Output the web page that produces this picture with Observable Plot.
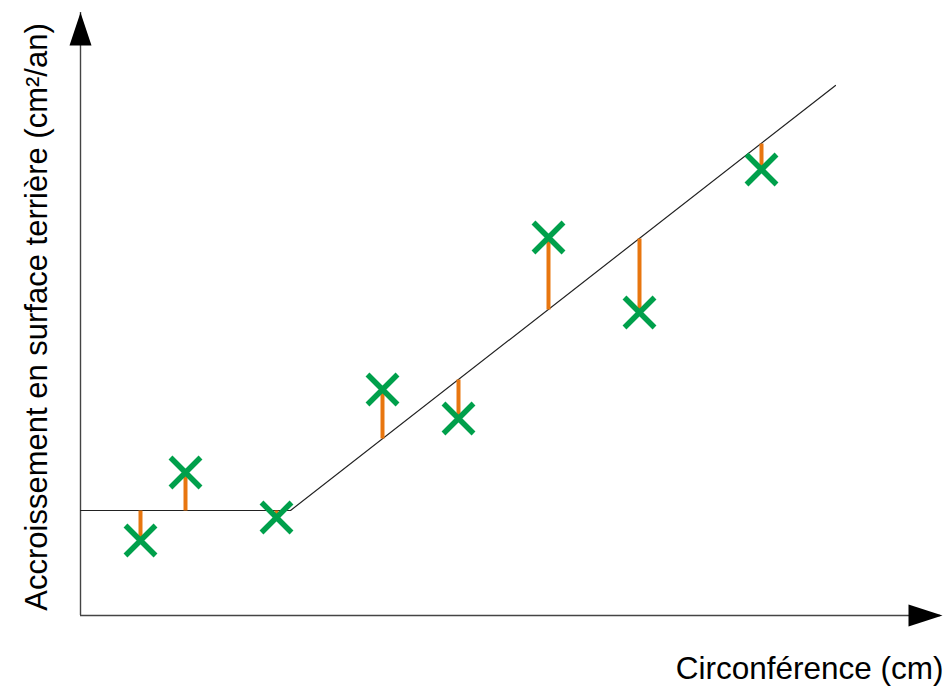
<!DOCTYPE html>
<html>
<head>
<meta charset="utf-8">
<script src="https://cdn.jsdelivr.net/npm/d3@7"></script>
<script src="https://cdn.jsdelivr.net/npm/@observablehq/plot@0.6"></script>
<style>
  body { margin: 0; background: #fff; }
</style>
</head>
<body>
<div id="chart"></div>
<script>
// Observed trees: circumference (cm) and basal-area growth (cm²/yr)
const circumference = [6.0, 10.5, 19.6, 30.2, 37.8, 46.8, 55.9, 68.1];
const growth        = [7.5, 14.3, 9.8, 22.6, 19.7, 37.8, 30.3, 44.6];
// Value of the fitted broken-line model at each tree
const fitted        = [10.5, 10.5, 10.5, 17.7, 23.6, 30.6, 37.7, 47.2];
// Broken-line model: flat plateau, then linear increase
const modelX = [0, 21.0, 75.5];
const modelY = [10.5, 10.5, 53.0];

const xLabel = "Circonférence (cm)";
const yLabel = "Accroissement en surface terrière (cm²/an)";
const xMax = 86, yMax = 60.3;

const green = "#00a04b";
const orange = "#e8760f";

const trees = circumference.map((c, i) => ({c, g: growth[i], f: fitted[i]}));
const model = modelX.map((x, i) => ({x, y: modelY[i]}));

// Filled arrowheads for the axis ends (tip at the anchor point)
const arrowUp = {draw(ctx) { ctx.moveTo(0, 0); ctx.lineTo(-11, 33); ctx.lineTo(11, 33); ctx.closePath(); }};
const arrowRight = {draw(ctx) { ctx.moveTo(0, 0); ctx.lineTo(-34, -11); ctx.lineTo(-34, 11); ctx.closePath(); }};

const chart = Plot.plot({
  width: 949,
  height: 690,
  marginLeft: 80,
  marginRight: 9,
  marginTop: 12,
  marginBottom: 75,
  x: {domain: [0, xMax], axis: null},
  y: {domain: [0, yMax], axis: null},
  style: {fontFamily: "'Liberation Sans', Arial, sans-serif", background: "white", color: "black"},
  marks: [
    // axes
    Plot.ruleY([0], {stroke: "#444", strokeWidth: 1.4}),
    Plot.ruleX([0], {stroke: "#444", strokeWidth: 1.4}),
    Plot.dot([{x: 0, y: yMax}], {x: "x", y: "y", symbol: arrowUp, fill: "black", stroke: "none"}),
    Plot.dot([{x: xMax, y: 0}], {x: "x", y: "y", symbol: arrowRight, fill: "black", stroke: "none", dx: 2}),
    // model
    Plot.line(model, {x: "x", y: "y", stroke: "#222", strokeWidth: 1.2}),
    // residuals
    Plot.link(trees, {x1: "c", x2: "c", y1: "f", y2: "g", stroke: orange, strokeWidth: 4}),
    // observations
    Plot.dot(trees, {x: "c", y: "g", symbol: "times", r: 13.7, stroke: green, strokeWidth: 5.5}),
    // axis titles
    Plot.text([yLabel], {text: d => d, frameAnchor: "left", textAnchor: "middle", rotate: -90, dx: -43, dy: 3, fontSize: 31, fill: "black"}),
    Plot.text([xLabel], {text: d => d, frameAnchor: "bottom-right", textAnchor: "end", dx: 3, dy: 63, fontSize: 31.5, fill: "black"})
  ]
});

document.getElementById("chart").appendChild(chart);
</script>
</body>
</html>
